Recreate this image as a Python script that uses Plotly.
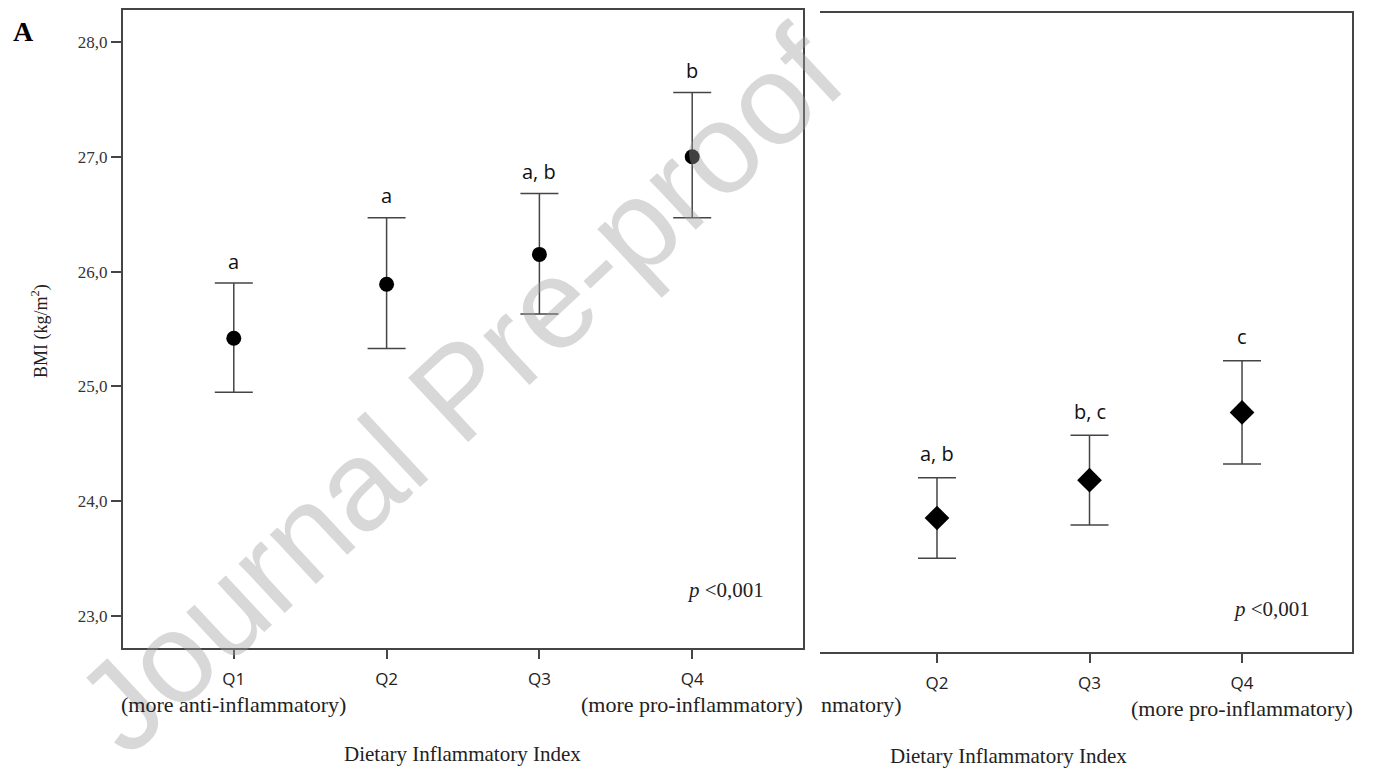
import plotly.graph_objects as go

# ---- data ----
categories = ["Q1", "Q2", "Q3", "Q4"]
sub_labels = ["(more anti-inflammatory)", "", "", "(more pro-inflammatory)"]

left_mean = [25.42, 25.89, 26.15, 27.00]
left_upper = [25.90, 26.47, 26.68, 27.56]
left_lower = [24.95, 25.33, 25.63, 26.47]
left_letters = ["a", "a", "a, b", "b"]

right_cats = ["Q2", "Q3", "Q4"]
right_mean = [23.88, 24.21, 24.80]
right_upper = [24.23, 24.60, 25.25]
right_lower = [23.53, 23.82, 24.35]
right_letters = ["a, b", "b, c", "c"]

ytick_vals = [23, 24, 25, 26, 27, 28]
ytick_text = ["23,0", "24,0", "25,0", "26,0", "27,0", "28,0"]

SERIF = "Liberation Serif"
SANS = "Open Sans"
LINE = "#454545"

# page body has an 8px margin: compensate
OX, OY = 8, 8
W, H = 1360, 760


def px(x):
    return (x - OX) / W


def py(y):
    return 1 - (y - OY) / H


fig = go.Figure()

lx = [categories.index(c) + 1 for c in categories]
rx = [categories.index(c) + 1 for c in right_cats]

fig.add_trace(go.Scatter(
    x=lx, y=left_mean, mode="markers",
    marker=dict(symbol="circle", size=15, color="black"),
    error_y=dict(type="data", symmetric=False,
                 array=[u - m for u, m in zip(left_upper, left_mean)],
                 arrayminus=[m - l for m, l in zip(left_mean, left_lower)],
                 color=LINE, thickness=1.5, width=19),
    xaxis="x", yaxis="y", showlegend=False))

fig.add_trace(go.Scatter(
    x=rx, y=right_mean, mode="markers",
    marker=dict(symbol="diamond", size=19, color="black"),
    error_y=dict(type="data", symmetric=False,
                 array=[u - m for u, m in zip(right_upper, right_mean)],
                 arrayminus=[m - l for m, l in zip(right_mean, right_lower)],
                 color=LINE, thickness=1.5, width=19),
    xaxis="x2", yaxis="y2", showlegend=False))

fig.update_layout(
    width=W, height=H, margin=dict(l=0, r=0, t=0, b=0),
    paper_bgcolor="white", plot_bgcolor="white",
    xaxis=dict(domain=[px(123), px(803)], range=[0.275, 4.725],
               tickvals=lx, ticktext=categories,
               showline=True, mirror=True, linecolor=LINE, linewidth=2,
               ticks="outside", ticklen=9, tickwidth=2, tickcolor=LINE,
               ticklabelstandoff=6,
               showgrid=False, zeroline=False,
               tickfont=dict(family=SANS, size=17, color="#222")),
    yaxis=dict(domain=[py(648), py(10)], range=[22.721, 28.279],
               tickvals=ytick_vals, ticktext=ytick_text,
               showline=True, mirror=True, linecolor=LINE, linewidth=2,
               ticks="outside", ticklen=10, tickwidth=2, tickcolor=LINE,
               showgrid=False, zeroline=False,
               tickfont=dict(family=SERIF, size=17, color="#333")),
    xaxis2=dict(domain=[px(820), px(1352)], range=[1.233, 4.721],
                tickvals=rx, ticktext=right_cats, anchor="y2",
                showline=True, mirror=True, linecolor=LINE, linewidth=2,
                ticks="outside", ticklen=9, tickwidth=2, tickcolor=LINE,
                ticklabelstandoff=6,
                showgrid=False, zeroline=False,
                tickfont=dict(family=SANS, size=17, color="#222")),
    yaxis2=dict(domain=[py(652), py(13)], range=[22.713, 28.279],
                anchor="x2", side="right",
                showline=True, mirror=False, linecolor=LINE, linewidth=2,
                ticks="", showticklabels=False,
                showgrid=False, zeroline=False),
)


def A(**kw):
    base = dict(showarrow=False, xanchor="center", yanchor="middle")
    base.update(kw)
    return base


ann = []
# watermark
ann.append(A(x=px(458), y=py(390), xref="paper", yref="paper",
             text="Journal Pre-proof", textangle=-43, opacity=0.4,
             font=dict(family="Liberation Sans", size=128, color="#a0a0a0")))

# significance letters
for x, u, t in zip(lx, left_upper, left_letters):
    ann.append(A(x=x, y=u, xref="x", yref="y", text=t, yshift=22,
                 font=dict(family=SANS, size=20, color="#111")))
for x, u, t in zip(rx, right_upper, right_letters):
    ann.append(A(x=x, y=u, xref="x2", yref="y2", text=t, yshift=24,
                 font=dict(family=SANS, size=20, color="#111")))

# sub labels under ticks
for x, s in zip(lx, sub_labels):
    if s:
        ann.append(A(x=x, y=py(704), xref="x", yref="paper", text=s,
                     font=dict(family=SERIF, size=22, color="#222")))
ann.append(A(x=4, y=py(708), xref="x2", yref="paper", text=sub_labels[3],
             font=dict(family=SERIF, size=22, color="#222")))
ann.append(A(x=px(819), y=py(704), xref="paper", yref="paper", text="nmatory)",
             xanchor="left", font=dict(family=SERIF, size=22, color="#222")))

# axis titles
ann.append(A(x=px(463), y=py(754), xref="paper", yref="paper",
             text="Dietary Inflammatory Index",
             font=dict(family=SERIF, size=21, color="#222")))
ann.append(A(x=px(1008), y=py(756), xref="paper", yref="paper",
             text="Dietary Inflammatory Index",
             font=dict(family=SERIF, size=21, color="#222")))
ann.append(A(x=px(40), y=py(331), xref="paper", yref="paper",
             text="BMI (kg/m<sup>2</sup>)", textangle=-90,
             font=dict(family=SERIF, size=18, color="#222")))

# p values
ann.append(A(x=px(766), y=py(590), xref="paper", yref="paper",
             text="<i>p</i> <0,001", xanchor="right",
             font=dict(family=SERIF, size=21, color="#222")))
ann.append(A(x=px(1312), y=py(609), xref="paper", yref="paper",
             text="<i>p</i> <0,001", xanchor="right",
             font=dict(family=SERIF, size=21, color="#222")))

# panel letter
ann.append(A(x=px(23), y=py(31), xref="paper", yref="paper",
             text="<b>A</b>", font=dict(family=SERIF, size=28, color="black")))

fig.update_layout(annotations=ann)
fig.write_html("out.html")
